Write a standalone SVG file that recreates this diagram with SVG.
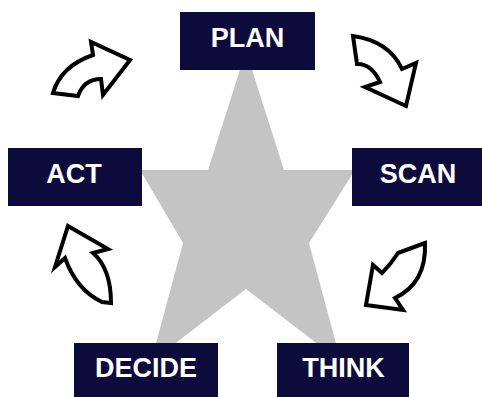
<svg xmlns="http://www.w3.org/2000/svg" width="482" height="397" viewBox="0 0 482 397">
  <style>
    .box { fill: #0d0b3b; }
    .label { fill: #ffffff; font-family: "Liberation Sans", Arial, sans-serif; font-weight: bold; font-size: 27px; text-anchor: middle; }
    .cycle { fill: #ffffff; stroke: #000000; stroke-width: 4; stroke-linejoin: miter; }
  </style>
  <rect width="482" height="397" fill="#ffffff"/>
  <!-- central star -->
  <polygon id="star" fill="#c4c4c4" points="246,51 284,170 355,170 309,243 341,362 246,289 151,362 183,243 140,170 208,170"/>
  <!-- cycle arrows -->
  <g id="connectors">
    <path class="cycle" d="M53,93 Q61,66 93,55 L91,42 L130,60 L103,95 L101,79 Q84,79 78,96 Z"/>
    <path class="cycle" d="M353,36 Q389,41 402,69 L416,63 L406,106 L365,87 L380,82 Q371.5,63.6 357,64 Z"/>
    <path class="cycle" d="M425,243 L398,253 Q391,264 382,273 L373,265 L366,305 L403,310 L395,298 Q426.6,283 425,243 Z"/>
    <path class="cycle" d="M68,226 L108,249 L93,253 Q111,268.6 111,303 L102,302 Q76.5,290 65,258 L55,267 Z"/>
  </g>
  <g id="plan">
    <rect class="box" x="180" y="12" width="135" height="58"/>
    <text class="label" x="247.5" y="47">PLAN</text>
  </g>
  <g id="scan">
    <rect class="box" x="352" y="148" width="130" height="58"/>
    <text class="label" x="418" y="183">SCAN</text>
  </g>
  <g id="think">
    <rect class="box" x="277" y="343" width="132" height="54"/>
    <text class="label" x="343.5" y="377">THINK</text>
  </g>
  <g id="decide">
    <rect class="box" x="74" y="343" width="144" height="54"/>
    <text class="label" x="146" y="377">DECIDE</text>
  </g>
  <g id="act">
    <rect class="box" x="8" y="148" width="134" height="58"/>
    <text class="label" x="74" y="183">ACT</text>
  </g>
</svg>
